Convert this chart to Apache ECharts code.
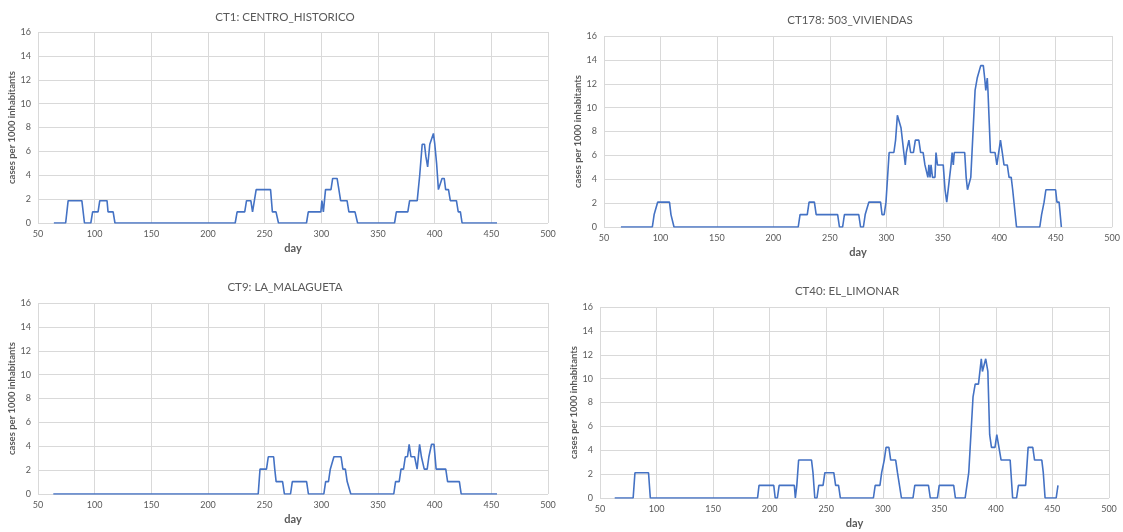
<!DOCTYPE html>
<html>
<head>
<meta charset="utf-8">
<script src="https://cdn.jsdelivr.net/npm/echarts@6/dist/echarts.min.js"></script>
<style>
html,body{margin:0;padding:0;background:#fff;}
#chart{width:1123px;height:532px;}
</style>
</head>
<body>
<div id="chart"></div>
<script>
const titles = ["CT1: CENTRO_HISTORICO", "CT178: 503_VIVIENDAS", "CT9: LA_MALAGUETA", "CT40: EL_LIMONAR"];
const xTitle = "day";
const yTitle = "cases per 1000 inhabitants";

const ct1Days = [64, 74.4, 76.6, 88.7, 91, 96.6, 98.2, 103, 104.5, 110.9, 111.8, 116.3, 117.9, 224, 225.7, 232.4, 234, 237.8, 239.3, 241, 242.5, 255.2, 256.8, 260, 262.2, 286.9, 288.5, 299.6, 300.5, 301.8, 303.7, 308.5, 310, 313.9, 315.5, 317, 322.7, 324.3, 329.7, 332, 364.6, 366.2, 376.3, 377.9, 384.6, 386.8, 389, 391, 392.2, 393.8, 395.7, 397.3, 398.9, 400.1, 401.7, 403.3, 404.9, 406.5, 408.4, 409.7, 412.2, 413.8, 419.2, 420.8, 422.7, 424.2, 455];
const ct1Vals = [0, 0, 1.87, 1.87, 0, 0, 0.93, 0.93, 1.87, 1.87, 0.93, 0.93, 0, 0, 0.93, 0.93, 1.87, 1.87, 0.93, 0.93, 2.8, 2.8, 0.93, 0.93, 0, 0, 0.93, 0.93, 1.87, 0.93, 2.8, 2.8, 3.73, 3.73, 2.8, 1.87, 1.87, 0.93, 0.93, 0, 0, 0.93, 0.93, 1.87, 1.87, 4, 6.6, 6.6, 5.6, 4.7, 6.6, 6.6, 7.5, 6.6, 5, 2.8, 2.8, 3.73, 3.73, 2.8, 2.8, 1.87, 1.87, 0.93, 0.93, 0, 0];

const ct178Days = [65, 92.8, 94.4, 96, 97.5, 108, 109.3, 110.8, 112, 222, 223.6, 230, 231.6, 236.3, 237.9, 256.9, 258.5, 261.3, 262.9, 275.6, 277.2, 279.7, 281.3, 282.9, 284.5, 294.9, 296.2, 298.1, 299.7, 302.5, 306.7, 308.2, 309.8, 311.4, 313, 314.6, 315.5, 316.8, 317.7, 320, 321.5, 324, 325.7, 328.8, 330.4, 332.6, 334.2, 335.2, 336.8, 337.7, 338.7, 339.6, 340.9, 343.1, 344, 345.3, 350.4, 352, 353.5, 355.1, 357.3, 358.3, 359.3, 360.2, 369.4, 370.7, 371.9, 373.2, 374.8, 375.7, 378.6, 380.5, 382, 383.6, 385.9, 387.1, 388.1, 389.4, 390, 392.2, 396.3, 397.9, 399.5, 401.1, 402.7, 404.2, 407.1, 408.7, 410.6, 411.9, 413.4, 415.3, 435.9, 437.5, 439.1, 439.7, 441.3, 449.9, 451.1, 453, 455];
const ct178Vals = [0, 0, 1.04, 1.04, 2.08, 2.08, 1.04, 1.04, 0, 0, 1.04, 1.04, 2.08, 2.08, 1.04, 1.04, 0, 0, 1.04, 1.04, 0, 0, 1.04, 1.04, 2.08, 2.08, 1.04, 1.04, 2.08, 6.24, 6.24, 7.28, 9.36, 9.36, 8.32, 8.32, 6.24, 5.2, 6.24, 7.28, 6.24, 6.24, 7.28, 7.28, 6.24, 6.24, 5.2, 5.2, 4.16, 5.2, 4.16, 5.2, 4.16, 4.16, 6.24, 5.2, 5.2, 3.12, 2.08, 2.08, 5.2, 6.24, 5.2, 6.24, 6.24, 4.16, 3.12, 3.12, 4.16, 4.16, 11.44, 12.48, 12.48, 13.52, 13.52, 12.48, 11.44, 12.48, 11.44, 6.24, 6.24, 5.2, 6.24, 7.28, 6.24, 5.2, 5.2, 4.16, 4.16, 3.12, 3.12, 0, 0, 1.04, 1.04, 2.08, 3.12, 3.12, 2.08, 2.08, 0];

const ct9Days = [63.5, 244.3, 245.9, 251.6, 253.2, 257.9, 258.9, 260.1, 265.8, 267.4, 272.8, 274.4, 287, 288.6, 302.2, 303.8, 306.3, 307.9, 309.5, 311.1, 317.4, 319, 321.2, 322.8, 324.4, 326, 363.9, 365.5, 368.7, 370.3, 372.5, 374.1, 376, 377.5, 379.1, 382.3, 384.5, 386.7, 388.3, 390.8, 393.4, 394.9, 397.2, 399.4, 401.3, 409.8, 411.4, 421.8, 423.4, 455];
const ct9Vals = [0, 0, 2.08, 2.08, 3.12, 3.12, 2.08, 1.04, 1.04, 0, 0, 1.04, 1.04, 0, 0, 1.04, 1.04, 2.08, 2.08, 3.12, 3.12, 2.08, 2.08, 1.04, 1.04, 0, 0, 1.04, 1.04, 2.08, 2.08, 3.12, 3.12, 4.16, 3.12, 3.12, 2.08, 4.16, 3.12, 2.08, 2.08, 3.12, 4.16, 4.16, 2.08, 2.08, 1.04, 1.04, 0, 0];

const ct40Days = [63, 79.3, 80.9, 92.9, 94.5, 189.3, 190.6, 203.6, 204.9, 206.8, 208.4, 221.8, 222.7, 224, 225.6, 237, 238.3, 239.9, 241.8, 243.4, 247.2, 248.8, 256.7, 258.3, 260.9, 262.5, 291.7, 293.3, 297.5, 299, 301.3, 302.9, 305.4, 307, 311.4, 313, 314.6, 316.5, 326.7, 328.3, 340.4, 342, 348.3, 349.9, 362.7, 364.2, 372.8, 374.4, 376, 377.6, 379.8, 381.7, 384.6, 387.1, 388.1, 389.7, 391, 391.9, 392.9, 394.5, 396.1, 399.2, 400.8, 402.4, 404.6, 412.6, 414.8, 418.3, 419.9, 426.3, 428.5, 432.6, 434.2, 440.6, 441.9, 443.5, 453.3, 454.9];
const ct40Vals = [0, 0, 2.12, 2.12, 0, 0, 1.06, 1.06, 0, 0, 1.06, 1.06, 0, 1.06, 3.18, 3.18, 2.12, 0, 0, 1.06, 1.06, 2.12, 2.12, 1.06, 1.06, 0, 0, 1.06, 1.06, 2.12, 3.18, 4.24, 4.24, 3.18, 3.18, 2.12, 2.12, 0, 0, 1.06, 1.06, 0, 0, 1.06, 1.06, 0, 0, 1.06, 2.12, 2.12, 8.48, 9.54, 9.54, 11.66, 10.6, 10.6, 11.66, 11.66, 10.6, 5.3, 4.24, 4.24, 5.3, 5.3, 3.18, 3.18, 0, 0, 1.06, 1.06, 4.24, 4.24, 3.18, 3.18, 2.12, 0, 0, 1.06];

const seriesDays = [ct1Days, ct178Days, ct9Days, ct40Days];
const seriesVals = [ct1Vals, ct178Vals, ct9Vals, ct40Vals];

// layout (px)
const grids = [
  {left: 38, top: 32, width: 510, height: 191},
  {left: 604, top: 36, width: 509, height: 191},
  {left: 38, top: 303, width: 510, height: 191},
  {left: 600, top: 307, width: 509, height: 191}
];
const titlePos = [
  {x: 280, y: 6}, {x: 845, y: 9}, {x: 280, y: 276}, {x: 842, y: 280}
];

const FONT = 'Lato, "Open Sans", sans-serif';
const gray = '#595959';

const chart = echarts.init(document.getElementById('chart'), null, {renderer: 'canvas'});
const option = {
  backgroundColor: '#fff',
  animation: false,
  title: titles.map((t, i) => ({
    text: t, left: titlePos[i].x, top: titlePos[i].y, textAlign: 'center',
    textStyle: {fontFamily: FONT, fontSize: 11.5, fontWeight: 'normal', color: gray}
  })),
  grid: grids.map(g => Object.assign({containLabel: false}, g)),
  xAxis: grids.map((g, i) => ({
    type: 'value', gridIndex: i, min: 50, max: 500, interval: 50,
    name: xTitle, nameLocation: 'middle', nameGap: 20,
    nameTextStyle: {fontFamily: FONT, fontSize: 11, fontWeight: 'bold', color: gray},
    axisLine: {show: false}, axisTick: {show: false},
    axisLabel: {fontFamily: FONT, fontSize: 9, color: gray, margin: 7},
    splitLine: {show: true, lineStyle: {color: '#d9d9d9', width: 1}}
  })),
  yAxis: grids.map((g, i) => ({
    type: 'value', gridIndex: i, min: 0, max: 16, interval: 2,
    name: yTitle, nameLocation: 'middle', nameGap: 19,
    nameTextStyle: {fontFamily: FONT, fontSize: 9.5, fontWeight: 'bold', color: gray},
    axisLine: {show: false}, axisTick: {show: false},
    axisLabel: {fontFamily: FONT, fontSize: 9, color: gray, margin: 7},
    splitLine: {show: true, lineStyle: {color: '#d9d9d9', width: 1}}
  })),
  series: seriesDays.map((days, i) => ({
    type: 'line', xAxisIndex: i, yAxisIndex: i,
    data: days.map((d, k) => [d, seriesVals[i][k]]),
    showSymbol: false, symbol: 'none',
    lineStyle: {color: '#4472C4', width: 1.6},
    itemStyle: {color: '#4472C4'}
  }))
};
chart.setOption(option);
</script>
</body>
</html>
